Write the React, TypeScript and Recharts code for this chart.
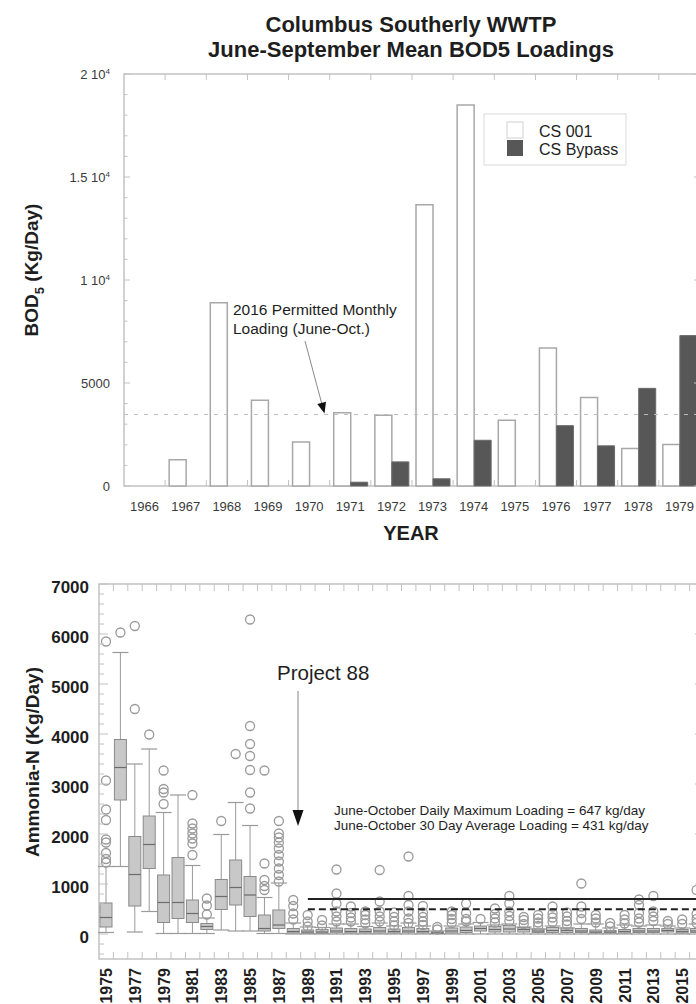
import React from 'react';
import { BarChart, Bar, XAxis, YAxis, ReferenceLine, ReferenceArea } from 'recharts';

const FONT = '"Liberation Sans", Arial, Helvetica, sans-serif';
const FRAME = '#c2c2c2';
const INK = '#1e1e1e';

// ---- top panel: June-September mean BOD5 loadings (kg/day)
const bodYears = ['1966', '1967', '1968', '1969', '1970', '1971', '1972', '1973', '1974', '1975', '1976', '1977', '1978', '1979'];
const cs001 = [0, 1280, 8900, 4160, 2140, 3550, 3430, 13650, 18500, 3190, 6700, 4300, 1820, 2010];
const csBypass = [0, 0, 0, 0, 0, 185, 1170, 350, 2220, 0, 2930, 1950, 4740, 7300];
const permittedMonthly = 3470;
const bodTicks = [0, 1000, 2000, 3000, 4000, 5000, 6000, 7000, 8000, 9000, 10000, 11000, 12000, 13000, 14000, 15000, 16000, 17000, 18000, 19000, 20000];

// ---- bottom panel: ammonia-N daily loadings, box plots per year (kg/day)
const years = ['1975', '1976', '1977', '1978', '1979', '1980', '1981', '1982', '1983', '1984', '1985', '1986', '1987', '1988', '1989', '1990', '1991', '1992', '1993', '1994', '1995', '1996', '1997', '1998', '1999', '2000', '2001', '2002', '2003', '2004', '2005', '2006', '2007', '2008', '2009', '2010', '2011', '2012', '2013', '2014', '2015', '2016'];
const whiskerLow = [30, 1350, 40, 450, 10, 10, 10, 10, 80, 60, 60, 10, 10, 0, 0, 0, 0, 0, 0, 0, 0, 0, 0, 0, 0, 0, 0, 0, 0, 0, 0, 0, 0, 0, 0, 0, 0, 0, 0, 0, 0, 0];
const q1 = [140, 2680, 560, 1310, 230, 310, 230, 90, 490, 580, 350, 60, 110, 20, 15, 15, 25, 20, 20, 20, 20, 25, 20, 10, 20, 30, 60, 40, 40, 40, 30, 30, 30, 30, 20, 20, 20, 30, 30, 40, 20, 30];
const median = [330, 3330, 1190, 1790, 630, 630, 410, 150, 750, 930, 780, 110, 180, 50, 40, 40, 60, 50, 50, 60, 50, 60, 50, 25, 60, 70, 110, 90, 100, 90, 60, 70, 70, 60, 40, 40, 50, 60, 60, 70, 50, 60];
const q3 = [620, 3890, 1950, 2360, 1180, 1530, 680, 210, 1090, 1480, 1150, 380, 480, 110, 80, 90, 120, 110, 100, 130, 100, 130, 110, 45, 120, 140, 160, 150, 170, 130, 100, 130, 120, 110, 80, 70, 90, 110, 110, 110, 90, 110];
const whiskerHigh = [1350, 5630, 3400, 3700, 2430, 2780, 1370, 320, 1990, 2630, 2170, 730, 1020, 220, 140, 130, 200, 200, 150, 220, 160, 220, 160, 60, 160, 200, 230, 180, 200, 140, 100, 160, 120, 200, 200, 120, 180, 160, 180, 160, 120, 200];
const outliers = [
  [5850, 3070, 2490, 2280, 1890, 1830, 1620, 1500, 1430],
  [6030],
  [6160, 4500],
  [3990],
  [3270, 2900, 2830, 2600],
  [],
  [2780, 2210, 2110, 2010, 1910, 1810, 1580],
  [710, 570, 390],
  [2260],
  [3600],
  [6290, 4160, 3800, 3560, 3280, 2830, 2510],
  [3270, 1410, 1080, 960, 880],
  [2260, 2010, 1930, 1830, 1710, 1580, 1450, 1310, 1180, 1050],
  [680, 560, 410, 290],
  [380, 250, 150],
  [280, 170],
  [1290, 810, 610, 450, 350, 250],
  [550, 420, 330, 250],
  [450, 380, 290, 210],
  [1280, 650, 450, 350, 250],
  [430, 340, 250, 170],
  [1550, 760, 580, 450, 310, 220],
  [560, 430, 340, 250, 180],
  [140, 90],
  [450, 380, 300, 220],
  [610, 420, 300, 250],
  [300],
  [510, 400, 310, 230],
  [760, 610, 450, 360, 260],
  [340, 280, 200],
  [380, 310, 230, 160],
  [550, 410, 330, 240],
  [430, 350, 260, 190],
  [1010, 550, 420, 300],
  [380, 310, 230],
  [220, 150],
  [380, 290, 210],
  [690, 580, 420, 310, 230],
  [760, 450, 350, 260],
  [260, 200],
  [290, 200],
  [880, 400, 300, 220],
];
const dailyMaxLine = 700;
const thirtyDayLine = 495;
const nhMajor = [0, 1000, 2000, 3000, 4000, 5000, 6000, 7000];
const nhTicks = Array.from({ length: 38 }, (_, i) => -400 + i * 200);

const bodData = bodYears.map((year, i) => ({ year, cs001: cs001[i], bypass: csBypass[i] }));
const nhData = years.map((year, i) => ({
  year,
  range: [whiskerLow[i], whiskerHigh[i]],
  q1: q1[i],
  median: median[i],
  q3: q3[i],
  outliers: outliers[i],
}));

// plot geometry (chart coordinates)
const TOP1 = 74;
const RIGHT1 = 700;
const BAND1 = (RIGHT1 - 124) / bodYears.length;
const TOP2 = 24;
const RIGHT2 = 704;
const BAND2 = (RIGHT2 - 99) / years.length;

const bodLabel = (v: number) => {
  if (v < 10000) return <tspan>{v}</tspan>;
  return (
    <>
      <tspan>{`${v / 10000} 10`}</tspan>
      <tspan dy={-5} fontSize={8}>4</tspan>
    </>
  );
};

const BodXTick = ({ x, y, payload, index }: any) => {
  const bx = x - BAND1 / 2;
  return (
    <g>
      {index > 0 && <line x1={bx} x2={bx} y1={y} y2={y - 6} stroke={FRAME} />}
      {index > 0 && <line x1={bx} x2={bx} y1={TOP1} y2={TOP1 + 6} stroke={FRAME} />}
      <text x={x} y={y + 24.5} textAnchor="middle" fontSize={13} fill="#3a3a3a">{payload.value}</text>
    </g>
  );
};

const BodYTick = ({ x, y, payload }: any) => {
  const v = payload.value;
  const major = v % 5000 === 0;
  const len = major ? 6 : 3.5;
  return (
    <g>
      <line x1={x} x2={x + len} y1={y} y2={y} stroke={FRAME} />
      <line x1={RIGHT1} x2={RIGHT1 - len} y1={y} y2={y} stroke={FRAME} />
      {major && (
        <text x={x - 14} y={y} dy="0.35em" textAnchor="end" fontSize={13} fill="#3a3a3a">{bodLabel(v)}</text>
      )}
    </g>
  );
};

const NhXTick = ({ x, y, payload, index }: any) => {
  const bx = x - BAND2 / 2;
  const ly = y + 9;
  return (
    <g>
      {index > 0 && <line x1={bx} x2={bx} y1={y} y2={y - 7} stroke={FRAME} />}
      {index > 0 && <line x1={bx} x2={bx} y1={TOP2} y2={TOP2 + 7} stroke={FRAME} />}
      {index % 2 === 0 && (
        <text x={x} y={ly} dy="0.36em" transform={`rotate(-90 ${x} ${ly})`} textAnchor="end" fontSize={16} fontWeight="bold" fill={INK}>
          {payload.value}
        </text>
      )}
    </g>
  );
};

const NhYTick = ({ x, y, payload }: any) => {
  const v = payload.value;
  const major = v % 1000 === 0;
  const len = major ? 9 : 5;
  return (
    <g>
      <line x1={x} x2={x + len} y1={y} y2={y} stroke={FRAME} />
      <line x1={RIGHT2} x2={RIGHT2 - len} y1={y} y2={y} stroke={FRAME} />
      {major && nhMajor.includes(v) && (
        <text x={x - 10} y={y} dy="0.5em" textAnchor="end" fontSize={17} fontWeight="bold" fill={INK}>{v}</text>
      )}
    </g>
  );
};

// box, whiskers and outlier circles, placed from the ranged bar (whisker low -> high)
const BoxShape = (props: any) => {
  const { x, y, width, height, payload } = props;
  if (!payload || !height) return null;
  const [lo, hi] = payload.range;
  const toY = (v: number) => y + ((hi - v) / (hi - lo)) * height;
  const cx = x + width / 2;
  const cap = 8;
  const grey = '#9a9a9a';
  return (
    <g>
      <line x1={cx} x2={cx} y1={toY(hi)} y2={toY(payload.q3)} stroke={grey} />
      <line x1={cx} x2={cx} y1={toY(payload.q1)} y2={toY(lo)} stroke={grey} />
      <line x1={cx - cap} x2={cx + cap} y1={toY(hi)} y2={toY(hi)} stroke={grey} strokeWidth={1.2} />
      <line x1={cx - cap} x2={cx + cap} y1={toY(lo)} y2={toY(lo)} stroke={grey} strokeWidth={1.2} />
      <rect
        x={x}
        y={toY(payload.q3)}
        width={width}
        height={Math.max(toY(payload.q1) - toY(payload.q3), 1)}
        fill="#c8c8c8"
        stroke="#8a8a8a"
      />
      <line x1={x} x2={x + width} y1={toY(payload.median)} y2={toY(payload.median)} stroke="#6c6c6c" strokeWidth={1.2} />
      {payload.outliers.map((v: number, i: number) => (
        <circle key={i} cx={cx} cy={toY(v)} r={4.5} fill="none" stroke={grey} strokeWidth={1.3} />
      ))}
    </g>
  );
};

export default function App() {
  return (
    <div style={{ position: 'absolute', left: 0, top: 0, width: 696, height: 1004, overflow: 'hidden', background: '#fff', fontFamily: FONT }}>
      <div style={{ position: 'absolute', left: 0, top: 0 }}>
        <BarChart width={720} height={560} data={bodData} margin={{ top: TOP1, right: 20, left: 84, bottom: 0 }} barGap={0}>
          <XAxis dataKey="year" height={74} interval={0} tickLine={false} axisLine={false} tickSize={0} tickMargin={0} tick={BodXTick} />
          <YAxis type="number" domain={[0, 20000]} ticks={bodTicks} width={40} interval={0} tickLine={false} axisLine={false} tickSize={0} tickMargin={0} tick={BodYTick} />
          <ReferenceLine y={permittedMonthly} stroke="#bdbdbd" strokeDasharray="4 6" />
          <Bar dataKey="cs001" barSize={17} fill="#ffffff" stroke="#a8a8a8" strokeWidth={1.5} isAnimationActive={false} />
          <Bar dataKey="bypass" barSize={17} fill="#575757" stroke="#6a6a6a" isAnimationActive={false} />
          <ReferenceArea x1="1966" x2="1979" y1={0} y2={20000} fill="none" stroke={FRAME} strokeWidth={1.5} ifOverflow="visible" />
        </BarChart>
      </div>

      <div style={{ position: 'absolute', left: 0, top: 560 }}>
        <BarChart width={724} height={444} data={nhData} margin={{ top: TOP2, right: 20, left: 59, bottom: 0 }}>
          <XAxis dataKey="year" height={45} interval={0} tickLine={false} axisLine={false} tickSize={0} tickMargin={0} tick={NhXTick} />
          <YAxis type="number" domain={[-500, 7000]} ticks={nhTicks} width={40} interval={0} tickLine={false} axisLine={false} tickSize={0} tickMargin={0} tick={NhYTick} />
          <Bar dataKey="range" barSize={12} shape={BoxShape} isAnimationActive={false} />
          <ReferenceLine segment={[{ x: '1989', y: dailyMaxLine }, { x: '2016', y: dailyMaxLine }]} stroke="#222" strokeWidth={2} />
          <ReferenceLine segment={[{ x: '1989', y: thirtyDayLine }, { x: '2016', y: thirtyDayLine }]} stroke="#222" strokeWidth={2} strokeDasharray="7 4" />
          <ReferenceArea x1="1975" x2="2016" y1={-500} y2={7000} fill="none" stroke={FRAME} strokeWidth={1.5} ifOverflow="visible" />
        </BarChart>
      </div>

      <svg width={696} height={1004} style={{ position: 'absolute', left: 0, top: 0, pointerEvents: 'none' }} fontFamily={FONT}>
        <text x={411} y={32} textAnchor="middle" fontSize={22} fontWeight="bold" fill={INK}>Columbus Southerly WWTP</text>
        <text x={411} y={57} textAnchor="middle" fontSize={22} fontWeight="bold" fill={INK}>June-September Mean BOD5 Loadings</text>

        <text x={38} y={270} transform="rotate(-90 38 270)" textAnchor="middle" fontSize={19} fontWeight="bold" fill={INK}>
          BOD<tspan dy={6} fontSize={13}>5</tspan><tspan dy={-6}> (Kg/Day)</tspan>
        </text>
        <text x={411} y={540} textAnchor="middle" fontSize={20} fontWeight="bold" fill={INK}>YEAR</text>

        <rect x={484} y={114} width={142} height={51} fill="#fff" stroke="#dadada" />
        <rect x={507} y={122} width={16} height={16} fill="#fff" stroke="#d0d0d0" />
        <rect x={507} y={140} width={16} height={16} fill="#575757" />
        <text x={539} y={137} fontSize={16} fill={INK}>CS 001</text>
        <text x={539} y={155} fontSize={16} fill={INK}>CS Bypass</text>

        <text x={233} y={315} fontSize={15.5} fill={INK}>2016 Permitted Monthly</text>
        <text x={233} y={334} fontSize={15.5} fill={INK}>Loading (June-Oct.)</text>
        <line x1={305} y1={341} x2={321.6} y2={403} stroke="#8a8a8a" />
        <polygon points="324.5,413.5 317.3,404.1 326,401.7" fill="#111" />

        <text x={38.5} y={762} transform="rotate(-90 38.5 762)" textAnchor="middle" fontSize={19} fontWeight="bold" fill={INK}>Ammonia-N (Kg/Day)</text>

        <text x={277} y={680} fontSize={20.5} fill={INK}>Project 88</text>
        <line x1={298} y1={691} x2={298} y2={812} stroke="#9a9a9a" strokeWidth={1.2} />
        <polygon points="298,826 292.5,810 303.5,810" fill="#111" />

        <text x={334} y={815} fontSize={13.5} fill={INK}>June-October Daily Maximum Loading = 647 kg/day</text>
        <text x={334} y={830} fontSize={13.5} fill={INK}>June-October 30 Day Average Loading = 431 kg/day</text>
      </svg>
    </div>
  );
}
